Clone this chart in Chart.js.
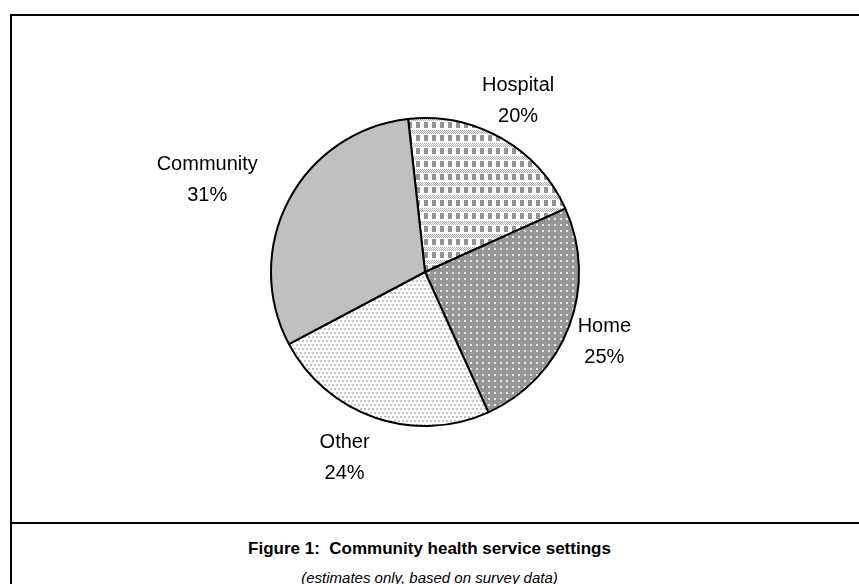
<!DOCTYPE html>
<html>
<head>
<meta charset="utf-8">
<script src="https://cdn.jsdelivr.net/npm/chart.js@4.4.1/dist/chart.umd.min.js"></script>
<style>
    html, body { margin: 0; padding: 0; background: #fff; }
    #page { position: relative; width: 859px; height: 584px; overflow: hidden; font-family: 'Liberation Sans', Arial, sans-serif; }
    #frame { position: absolute; left: 10px; top: 14px; width: 900px; height: 620px; border: 2px solid #000; box-sizing: border-box; }
    #divider { position: absolute; left: 10px; top: 522px; width: 900px; height: 2px; background: #000; }
    #chartBox { position: absolute; left: 0; top: 0; width: 859px; height: 522px; }
    #caption { position: absolute; left: 0; width: 859px; top: 539px; text-align: center; font-weight: bold; font-size: 17px; color: #000; white-space: pre; }
    #subcaption { position: absolute; left: 0; width: 859px; top: 569px; text-align: center; font-style: italic; font-size: 15px; color: #000; }
</style>
</head>
<body>
<div id="page">
    <div id="frame"></div>
    <div id="divider"></div>
    <div id="chartBox"><canvas id="settingsChart" width="859" height="522"></canvas></div>
    <div id="caption">Figure 1:  Community health service settings</div>
    <div id="subcaption">(estimates only, based on survey data)</div>
</div>
<script>
// Veriler
const categories = ['Hospital', 'Home', 'Other', 'Community'];
const shares = [20, 25, 24, 31];

// Desen yardımcıları (Excel tarzı dolgu desenleri)
function makePattern(w, h, draw) {
    const c = document.createElement('canvas');
    c.width = w; c.height = h;
    const g = c.getContext('2d');
    draw(g);
    return c.getContext('2d').createPattern(c, 'repeat');
}

// Hospital: gri/beyaz kareler + noktalı yatay bantlar
const hospitalFill = makePattern(8, 13, g => {
    g.fillStyle = '#ffffff';
    g.fillRect(0, 0, 8, 13);
    for (let y = 0; y < 4; y++) {
        for (let x = 0; x < 8; x++) {
            if ((x + y) % 2 === 0) { g.fillStyle = '#acacac'; g.fillRect(x, y, 1, 1); }
        }
    }
    g.fillStyle = '#939393';
    g.fillRect(0, 5, 4, 6);
});

// Home: koyu gri zemin, beyaz noktalar
const homeFill = makePattern(6, 6, g => {
    g.fillStyle = '#969696';
    g.fillRect(0, 0, 6, 6);
    g.fillStyle = '#e6e6e6';
    g.fillRect(2, 2, 2, 2);
});

// Other: beyaz zemin, gri noktalar (kaydırmalı)
const otherFill = makePattern(4, 8, g => {
    g.fillStyle = '#ffffff';
    g.fillRect(0, 0, 4, 8);
    g.fillStyle = '#c4c4c4';
    g.fillRect(0, 0, 2, 2);
    g.fillRect(2, 4, 2, 2);
});

const sliceFills = [hospitalFill, homeFill, otherFill, '#c0c0c0'];

// Dilim dışı etiketler (isim + yüzde)
const outsideLabels = {
    id: 'outsideLabels',
    afterDatasetsDraw(chart) {
        const ctx = chart.ctx;
        const meta = chart.getDatasetMeta(0);
        ctx.save();
        ctx.font = "20px 'Liberation Sans', Arial, sans-serif";
        ctx.fillStyle = '#000';
        ctx.textAlign = 'center';
        ctx.textBaseline = 'middle';
        const lineH = 31;
        const pullLeft = 14; // Excel etiketleri sol tarafa doğru biraz daha açık
        meta.data.forEach((arc, i) => {
            const mid = (arc.startAngle + arc.endAngle) / 2;
            const ux = Math.cos(mid), uy = Math.sin(mid);
            const lines = [categories[i], shares[i] + '%'];
            const w = Math.max(...lines.map(t => ctx.measureText(t).width));
            const h = lineH * 2;
            const dist = arc.outerRadius + 12;
            const cx = arc.x + ux * dist + ux * w / 2 - pullLeft * (1 - ux);
            const cy = arc.y + uy * dist + uy * h / 2;
            ctx.fillText(lines[0], cx, cy - lineH / 2);
            ctx.fillText(lines[1], cx, cy + lineH / 2);
        });
        ctx.restore();
    }
};

new Chart(document.getElementById('settingsChart'), {
    type: 'pie',
    data: {
        labels: categories,
        datasets: [{
            data: shares,
            backgroundColor: sliceFills,
            borderColor: '#000',
            borderWidth: 2
        }]
    },
    options: {
        responsive: false,
        animation: false,
        events: [],
        rotation: -6.3,
        layout: { padding: { left: 270, right: 279, top: 116, bottom: 94 } },
        plugins: {
            legend: { display: false },
            tooltip: { enabled: false }
        }
    },
    plugins: [outsideLabels]
});
</script>
</body>
</html>
